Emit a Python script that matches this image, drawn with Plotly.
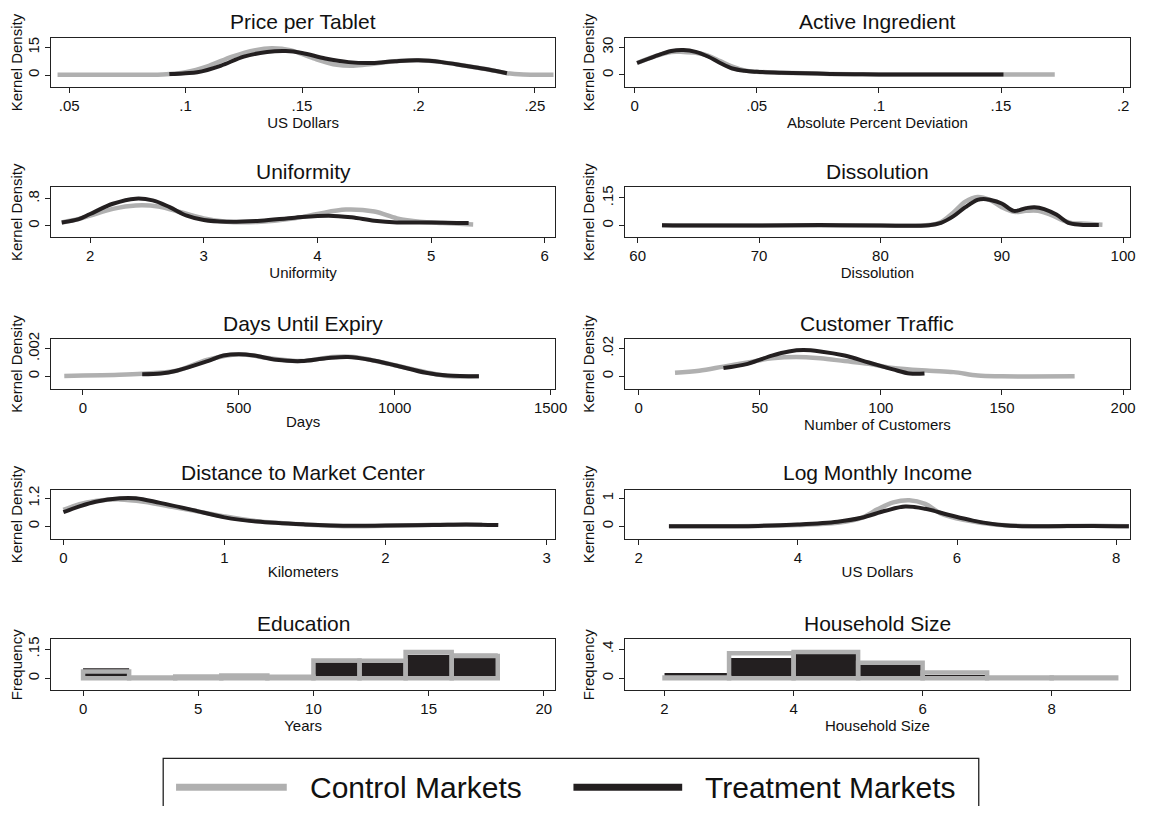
import plotly.graph_objects as go

GRAY = '#b0b0b0'
BLACK = '#231f20'
FONT = 'Liberation Sans, Arial, sans-serif'

# ---------------- data ----------------
price_ctrl_x = [0.045, 0.07, 0.09, 0.10, 0.11, 0.12, 0.13, 0.137, 0.145, 0.155, 0.165, 0.172, 0.18, 0.19, 0.20, 0.21, 0.22, 0.23, 0.238, 0.245, 0.258]
price_ctrl_y = [0.2, 0.1, 0.3, 1.5, 5.0, 10.0, 13.5, 14.5, 13.5, 9.0, 5.5, 5.0, 6.0, 7.5, 8.0, 7.0, 5.0, 3.0, 1.0, 0.3, 0.2]
price_trt_x = [0.093, 0.10, 0.105, 0.115, 0.125, 0.135, 0.143, 0.15, 0.16, 0.17, 0.18, 0.19, 0.20, 0.21, 0.22, 0.23, 0.238]
price_trt_y = [0.5, 1.0, 1.5, 5.0, 10.0, 12.5, 13.0, 12.0, 9.0, 7.0, 6.5, 7.5, 8.0, 7.0, 5.0, 3.0, 1.0]

ai_ctrl_x = [0.001, 0.008, 0.015, 0.02, 0.025, 0.03, 0.035, 0.04, 0.045, 0.05, 0.06, 0.07, 0.08, 0.09, 0.10, 0.12, 0.14, 0.15, 0.172]
ai_ctrl_y = [13, 20, 25, 25, 24, 21, 15, 9, 5, 3.5, 2.5, 1.8, 1.2, 0.8, 0.5, 0.5, 0.5, 0.5, 0.5]
ai_trt_x = [0.001, 0.008, 0.015, 0.02, 0.025, 0.03, 0.035, 0.04, 0.045, 0.05, 0.06, 0.07, 0.08, 0.09, 0.10, 0.12, 0.14, 0.151]
ai_trt_y = [13, 20, 26, 27, 25, 20, 13, 7, 4.5, 3.5, 2.5, 1.8, 1.2, 0.8, 0.5, 0.6, 0.6, 0.5]

uni_ctrl_x = [1.75, 1.9, 2.0, 2.2, 2.4, 2.6, 2.8, 3.0, 3.2, 3.5, 3.8, 4.0, 4.25, 4.5, 4.7, 4.9, 5.1, 5.37]
uni_ctrl_y = [0.1, 0.2, 0.3, 0.5, 0.6, 0.57, 0.4, 0.22, 0.12, 0.12, 0.22, 0.35, 0.48, 0.42, 0.22, 0.12, 0.08, 0.04]
uni_trt_x = [1.75, 1.9, 2.0, 2.2, 2.4, 2.55, 2.7, 2.85, 3.0, 3.2, 3.5, 3.8, 4.1, 4.3, 4.5, 4.7, 5.0, 5.33]
uni_trt_y = [0.1, 0.2, 0.35, 0.65, 0.8, 0.75, 0.55, 0.3, 0.17, 0.12, 0.15, 0.24, 0.3, 0.25, 0.15, 0.1, 0.1, 0.08]

dis_ctrl_x = [62, 70, 80, 84, 85, 86, 87, 88, 89, 90, 91, 92, 93, 94, 95, 95.7, 97, 98.3]
dis_ctrl_y = [0.002, 0.001, 0.0, 0.003, 0.02, 0.07, 0.13, 0.155, 0.14, 0.10, 0.075, 0.08, 0.08, 0.06, 0.03, 0.015, 0.01, 0.005]
dis_trt_x = [62, 65, 70, 75, 80, 84, 85, 86, 87, 88, 88.5, 89, 90, 91, 92, 92.7, 93.5, 94.5, 95.5, 96.5, 98]
dis_trt_y = [0.002, 0.0, 0.001, 0.003, 0.0, 0.002, 0.015, 0.05, 0.10, 0.14, 0.145, 0.14, 0.12, 0.08, 0.095, 0.10, 0.09, 0.06, 0.015, 0.005, 0.003]

days_ctrl_x = [-60, 0, 100, 190, 300, 400, 500, 600, 700, 800, 870, 1000, 1100, 1170, 1270]
days_ctrl_y = [0.00002, 0.00005, 0.0001, 0.00018, 0.0004, 0.0012, 0.0016, 0.0013, 0.0011, 0.0014, 0.0014, 0.0008, 0.0003, 0.00002, 0.0]
days_trt_x = [190, 250, 300, 400, 450, 500, 550, 620, 700, 780, 850, 920, 1000, 1100, 1170, 1270]
days_trt_y = [0.00015, 0.0002, 0.0004, 0.0011, 0.0015, 0.0016, 0.0015, 0.0012, 0.0011, 0.0013, 0.0014, 0.0012, 0.0008, 0.00025, 0.00005, 0.0]

cust_ctrl_x = [15, 25, 35, 45, 55, 65, 75, 85, 95, 105, 120, 130, 140, 150, 180]
cust_ctrl_y = [0.0025, 0.004, 0.007, 0.010, 0.013, 0.014, 0.013, 0.011, 0.009, 0.006, 0.004, 0.003, 0.0005, 0.0, 0.0]
cust_trt_x = [35, 45, 55, 62, 68, 75, 85, 95, 105, 112, 118]
cust_trt_y = [0.006, 0.009, 0.015, 0.018, 0.019, 0.018, 0.015, 0.010, 0.005, 0.002, 0.002]

dist_ctrl_x = [0, 0.1, 0.2, 0.35, 0.5, 0.7, 0.9, 1.0, 1.2, 1.5, 1.8, 2.0, 2.3, 2.6]
dist_ctrl_y = [0.7, 0.95, 1.08, 1.15, 1.05, 0.8, 0.55, 0.42, 0.22, 0.08, 0.0, 0.02, 0.06, 0.07]
dist_trt_x = [0, 0.1, 0.2, 0.35, 0.45, 0.6, 0.8, 1.0, 1.2, 1.5, 1.8, 2.0, 2.3, 2.5, 2.7]
dist_trt_y = [0.6, 0.85, 1.05, 1.2, 1.2, 1.0, 0.7, 0.38, 0.2, 0.08, 0.02, 0.03, 0.05, 0.08, 0.05]

inc_ctrl_x = [2.38, 3.5, 4.0, 4.5, 4.8, 5.0, 5.2, 5.4, 5.6, 5.8, 6.1, 6.5, 7.0, 7.7, 8.16]
inc_ctrl_y = [0.0, 0.01, 0.04, 0.12, 0.3, 0.6, 0.85, 0.93, 0.8, 0.45, 0.22, 0.05, 0.0, 0.02, 0.0]
inc_trt_x = [2.38, 3.5, 4.0, 4.5, 4.8, 5.1, 5.35, 5.6, 5.9, 6.2, 6.6, 7.0, 7.7, 8.16]
inc_trt_y = [0.0, 0.01, 0.06, 0.16, 0.3, 0.55, 0.7, 0.62, 0.4, 0.2, 0.03, 0.0, 0.01, 0.0]

edu_bin_left = [0, 2, 4, 6, 8, 10, 12, 14, 16]
edu_bin_width = 2
edu_ctrl = [0.035, 0.005, 0.010, 0.015, 0.008, 0.092, 0.090, 0.135, 0.115]
edu_trt = [0.052, 0.0, 0.003, 0.011, 0.005, 0.082, 0.080, 0.122, 0.126]

hh_bin_left = [2, 3, 4, 5, 6, 7, 8]
hh_bin_width = 1
hh_ctrl = [0.01, 0.345, 0.36, 0.215, 0.08, 0.01, 0.01]
hh_trt = [0.075, 0.28, 0.335, 0.185, 0.045, 0.0, 0.0]

panel_titles = ['Price per Tablet', 'Active Ingredient', 'Uniformity', 'Dissolution',
                'Days Until Expiry', 'Customer Traffic', 'Distance to Market Center',
                'Log Monthly Income', 'Education', 'Household Size']
x_titles = ['US Dollars', 'Absolute Percent Deviation', 'Uniformity', 'Dissolution', 'Days',
            'Number of Customers', 'Kilometers', 'US Dollars', 'Years', 'Household Size']
y_titles = ['Kernel Density'] * 8 + ['Frequency'] * 2

x_tickvals = [[0.05, 0.1, 0.15, 0.2, 0.25], [0, 0.05, 0.1, 0.15, 0.2], [2, 3, 4, 5, 6],
              [60, 70, 80, 90, 100], [0, 500, 1000, 1500], [0, 50, 100, 150, 200],
              [0, 1, 2, 3], [2, 4, 6, 8], [0, 5, 10, 15, 20], [2, 4, 6, 8]]
x_ticktext = [['.05', '.1', '.15', '.2', '.25'], ['0', '.05', '.1', '.15', '.2'], ['2', '3', '4', '5', '6'],
              ['60', '70', '80', '90', '100'], ['0', '500', '1000', '1500'], ['0', '50', '100', '150', '200'],
              ['0', '1', '2', '3'], ['2', '4', '6', '8'], ['0', '5', '10', '15', '20'], ['2', '4', '6', '8']]
y_tickvals = [[0, 15], [0, 30], [0, 0.8], [0, 0.15], [0, 0.002], [0, 0.02], [0, 1.2], [0, 1], [0, 0.15], [0, 0.4]]
y_ticktext = [['0', '15'], ['0', '30'], ['0', '.8'], ['0', '.15'], ['0', '.002'], ['0', '.02'],
              ['0', '1.2'], ['0', '1'], ['0', '.15'], ['0', '.4']]

x_ranges = [[0.0424, 0.2585], [-0.004, 0.2028], [1.66, 6.087], [58.94, 100.57], [-101, 1513],
            [-5.71, 202.86], [-0.074, 3.05], [1.826, 8.174], [-1.37, 20.47], [1.385, 9.214]]
y_ranges = [[-6.7, 20.2], [-13.4, 40.3], [-0.33, 1.13], [-0.062, 0.207], [-0.0009, 0.00269],
            [-0.009, 0.0269], [-0.56, 1.56], [-0.47, 1.3], [-0.06, 0.2], [-0.16, 0.533]]

curves = [
    (price_ctrl_x, price_ctrl_y, price_trt_x, price_trt_y),
    (ai_ctrl_x, ai_ctrl_y, ai_trt_x, ai_trt_y),
    (uni_ctrl_x, uni_ctrl_y, uni_trt_x, uni_trt_y),
    (dis_ctrl_x, dis_ctrl_y, dis_trt_x, dis_trt_y),
    (days_ctrl_x, days_ctrl_y, days_trt_x, days_trt_y),
    (cust_ctrl_x, cust_ctrl_y, cust_trt_x, cust_trt_y),
    (dist_ctrl_x, dist_ctrl_y, dist_trt_x, dist_trt_y),
    (inc_ctrl_x, inc_ctrl_y, inc_trt_x, inc_trt_y),
]
hists = [
    (edu_bin_left, edu_bin_width, edu_ctrl, edu_trt),
    (hh_bin_left, hh_bin_width, hh_ctrl, hh_trt),
]

# ---------------- layout geometry (window pixels) ----------------
# The page body has an 8px default margin, so the figure is made 16px
# smaller and every window-pixel position is shifted by OFF.
WIN_W, WIN_H = 1151, 814
OFF = 8
W, H = WIN_W - 2 * OFF, WIN_H - 2 * OFF
col_px = [(52, 561), (632, 1143)]
row_px = [(31, 81), (182, 232), (335, 385), (487, 537), (638, 689)]
title_px = [15, 166, 319, 470, 622]


def px(x):
    return (x - OFF) / W


def py(y):
    return 1 - (y - OFF) / H


fig = go.Figure()
layout = dict(width=W, height=H, margin=dict(l=0, r=0, t=0, b=0),
              paper_bgcolor='white', plot_bgcolor='white', showlegend=False,
              barmode='overlay', font=dict(family=FONT, color='#111111'))
annotations = []
shapes = []

for i in range(10):
    r, c = divmod(i, 2)
    xa = 'x' if i == 0 else f'x{i+1}'
    ya = 'y' if i == 0 else f'y{i+1}'
    x0, x1 = col_px[c]
    y0, y1 = row_px[r]
    xdom = [max(0.0, px(x0)), min(1.0, px(x1))]
    ydom = [max(0.0, py(y1)), min(1.0, py(y0))]
    common = dict(showgrid=False, zeroline=False, showline=True, mirror=True,
                  linecolor='#222222', linewidth=1, ticks='outside', ticklen=5,
                  tickcolor='#222222', tickfont=dict(size=15, family=FONT, color='#111111'))
    layout['xaxis' if i == 0 else f'xaxis{i+1}'] = dict(
        domain=xdom, anchor=ya, range=x_ranges[i], tickmode='array',
        tickvals=x_tickvals[i], ticktext=x_ticktext[i],
        title=dict(text=x_titles[i], font=dict(size=15, family=FONT), standoff=1), **common)
    layout['yaxis' if i == 0 else f'yaxis{i+1}'] = dict(
        domain=ydom, anchor=xa, range=y_ranges[i], tickmode='array',
        tickvals=y_tickvals[i], ticktext=y_ticktext[i], tickangle=-90,
        title=dict(text=y_titles[i], font=dict(size=15, family=FONT), standoff=0), **common)
    annotations.append(dict(text=panel_titles[i], xref='paper', yref='paper',
                            x=(xdom[0] + xdom[1]) / 2, y=py(title_px[r]),
                            showarrow=False, xanchor='center', yanchor='middle',
                            font=dict(size=21, family=FONT, color='#111111')))
    if i < 8:
        cx, cy, tx, ty = curves[i]
        fig.add_trace(go.Scatter(x=cx, y=cy, mode='lines', xaxis=xa, yaxis=ya,
                                 line=dict(color=GRAY, width=4.5, shape='spline', smoothing=1.0)))
        fig.add_trace(go.Scatter(x=tx, y=ty, mode='lines', xaxis=xa, yaxis=ya,
                                 line=dict(color=BLACK, width=4, shape='spline', smoothing=1.0)))
    else:
        lefts, bw, cvals, tvals = hists[i - 8]
        centers = [lft + bw / 2 for lft in lefts]
        fig.add_trace(go.Bar(x=centers, y=tvals, width=bw, xaxis=xa, yaxis=ya,
                             marker=dict(color=BLACK, line=dict(width=0))))
        fig.add_trace(go.Bar(x=centers, y=cvals, width=bw, xaxis=xa, yaxis=ya,
                             marker=dict(color='rgba(0,0,0,0)', line=dict(color=GRAY, width=4.5))))

# ---------------- legend (drawn manually, open at the bottom edge) ----------------
leg_line = dict(color='#222222', width=1.3)
shapes.append(dict(type='path', xref='paper', yref='paper',
                   path=f'M {px(165)},{py(830)} L {px(165)},{py(758)} L {px(990)},{py(758)} L {px(990)},{py(830)}',
                   line=leg_line))
shapes.append(dict(type='line', xref='paper', yref='paper', x0=px(178), x1=px(290),
                   y0=py(787), y1=py(787), line=dict(color=GRAY, width=7)))
shapes.append(dict(type='line', xref='paper', yref='paper', x0=px(580), x1=px(690),
                   y0=py(787), y1=py(787), line=dict(color=BLACK, width=7)))
annotations.append(dict(text='Control Markets', xref='paper', yref='paper', x=px(311), y=py(787),
                        xanchor='left', yanchor='middle', showarrow=False,
                        font=dict(size=30, family=FONT, color='#111111')))
annotations.append(dict(text='Treatment Markets', xref='paper', yref='paper', x=px(711), y=py(787),
                        xanchor='left', yanchor='middle', showarrow=False,
                        font=dict(size=30, family=FONT, color='#111111')))

layout['annotations'] = annotations
layout['shapes'] = shapes
fig.update_layout(**layout)
fig.write_html('out.html')
